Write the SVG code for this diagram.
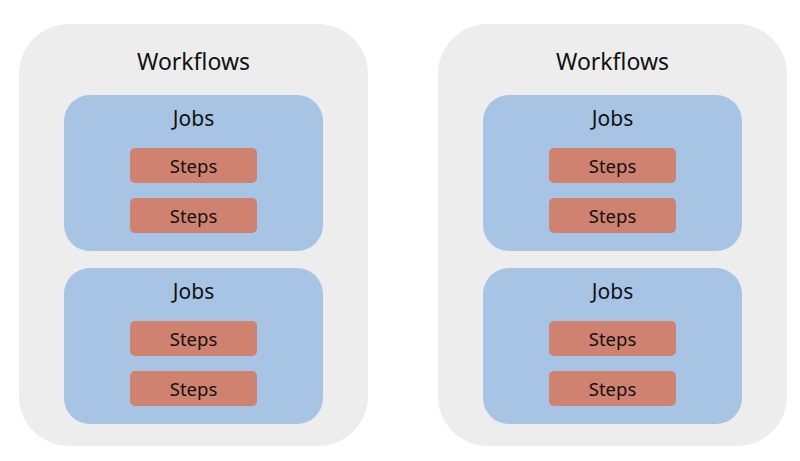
<svg xmlns="http://www.w3.org/2000/svg" width="800" height="461" viewBox="0 0 800 461">
<style>
.wf{fill:#EDEDED}
.job{fill:#A8C4E5}
.step{fill:#D08270}
text{font-family:"Noto Sans","Open Sans","DejaVu Sans",sans-serif;fill:#111;text-anchor:middle}
.t1{font-size:23px}
.t2{font-size:21px}
.t3{font-size:18.5px}
</style>
<rect width="800" height="461" fill="#FFFFFF"/>
<g id="workflow1">
<rect class="wf" x="19" y="24" width="349" height="422" rx="50"/>
<text class="t1" x="193.5" y="70">Workflows</text>
<g id="job1a">
<rect class="job" x="64" y="95" width="259" height="156" rx="26"/>
<text class="t2" x="193.5" y="126">Jobs</text>
<g id="step1a1"><rect class="step" x="130" y="148" width="127" height="35" rx="5"/><text class="t3" x="193.5" y="172.5">Steps</text></g>
<g id="step1a2"><rect class="step" x="130" y="198" width="127" height="35" rx="5"/><text class="t3" x="193.5" y="222.5">Steps</text></g>
</g>
<g id="job1b">
<rect class="job" x="64" y="268" width="259" height="156" rx="26"/>
<text class="t2" x="193.5" y="299">Jobs</text>
<g id="step1b1"><rect class="step" x="130" y="321" width="127" height="35" rx="5"/><text class="t3" x="193.5" y="345.5">Steps</text></g>
<g id="step1b2"><rect class="step" x="130" y="371" width="127" height="35" rx="5"/><text class="t3" x="193.5" y="395.5">Steps</text></g>
</g>
</g>
<g id="workflow2">
<rect class="wf" x="438" y="24" width="349" height="422" rx="50"/>
<text class="t1" x="612.5" y="70">Workflows</text>
<g id="job2a">
<rect class="job" x="483" y="95" width="259" height="156" rx="26"/>
<text class="t2" x="612.5" y="126">Jobs</text>
<g id="step2a1"><rect class="step" x="549" y="148" width="127" height="35" rx="5"/><text class="t3" x="612.5" y="172.5">Steps</text></g>
<g id="step2a2"><rect class="step" x="549" y="198" width="127" height="35" rx="5"/><text class="t3" x="612.5" y="222.5">Steps</text></g>
</g>
<g id="job2b">
<rect class="job" x="483" y="268" width="259" height="156" rx="26"/>
<text class="t2" x="612.5" y="299">Jobs</text>
<g id="step2b1"><rect class="step" x="549" y="321" width="127" height="35" rx="5"/><text class="t3" x="612.5" y="345.5">Steps</text></g>
<g id="step2b2"><rect class="step" x="549" y="371" width="127" height="35" rx="5"/><text class="t3" x="612.5" y="395.5">Steps</text></g>
</g>
</g>
<g id="connectors"/>
</svg>
